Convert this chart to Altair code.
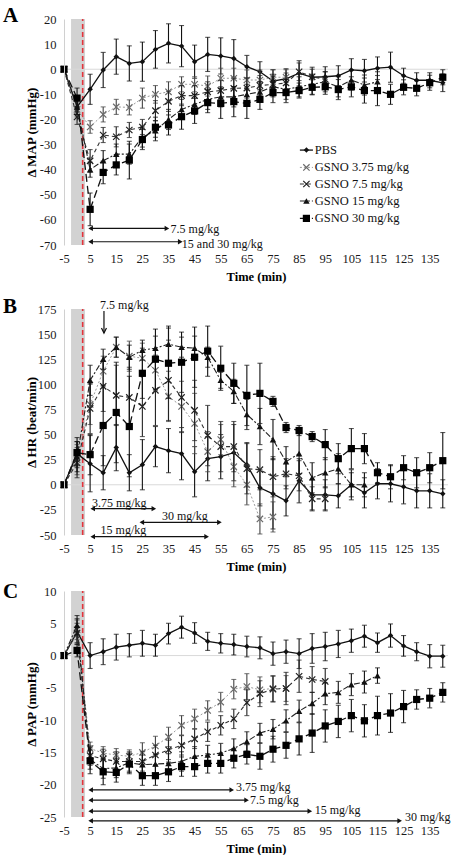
import altair as alt
import pandas as pd

FONT = "Liberation Serif"
TIME = list(range(-5, 145, 5))
X_TICKS = list(range(-5, 140, 10))
X_DOMAIN = [-5, 142]
BAND_T = [-2.3, 3.05]
RED_T = 2.15
SERIES = ["PBS", "GSNO 3.75 mg/kg", "GSNO 7.5 mg/kg", "GSNO 15 mg/kg", "GSNO 30 mg/kg"]

# ---------------- Panel A : delta MAP ----------------
MAP_PBS = [0, -15, -8, -0.3, 5, 2.3, 3, 7.9, 10.3, 9.2, 3, 5.9, 5.3, 4.3, 1.0, -1.0, -4.7, -3.8, -1.6, -3.2,
           -3, -2.6, -0.3, -0.6, 0.4, 0.8, -2.6, -4.4, -4.4, -5.4]
MAP_PBS_ERR = [0, 3, 6, 7, 7, 7, 7.8, 7.5, 7.8, 8.2, 6.6, 6.8, 7.2, 7.5, 4.5, 4.0, 4.5, 4.0, 5.0, 4.0,
               4.0, 4.0, 4.5, 4.5, 4.5, 6.0, 3.0, 3.0, 3.0, 3.5]
MAP_375 = [0, -16, -23, -18, -15, -15.2, -11.5, -10, -9, -6, -6, -6.7, -3.6, -3.6, -4.3, -4.3, -3.2, -3.2]
MAP_375_ERR = [0, 3, 2.5, 3, 3, 3, 4, 3.5, 4, 3, 3, 4, 4, 4, 4, 4, 3, 3]
MAP_75 = [0, -19, -36.5, -26.2, -26.9, -24.2, -23, -16.5, -12.8, -10.5, -10.5, -9, -8.5, -7.6, -7.5, -6.5,
          -6, -5.5, -1.0, -3.0, -4.0]
MAP_75_ERR = [0, 3, 4.5, 3, 4, 3, 3, 4, 4, 4, 4, 4, 4, 4, 4, 4, 4, 4, 3.5, 3, 3]
MAP_15 = [0, -15, -40, -36.4, -33.8, -33.8, -27, -24.5, -20, -16, -14, -12, -11, -11, -10, -9, -7, -8, -7, -6,
          -5, -7, -4.3, -6.3, -5.0]
MAP_15_ERR = [0, 3, 3, 4, 4, 4, 4, 4, 4, 4, 4, 4, 4, 4, 4, 4, 4, 4, 4, 4, 4, 4, 4, 4, 4]
MAP_30 = [0, -11.5, -55.8, -41.1, -38.1, -36.2, -28, -23.1, -22.2, -18.9, -16.6, -13.3, -13.6, -12.9, -13.6,
          -12, -9.3, -9.3, -8.5, -7.2, -7.0, -8.1, -7.0, -8.5, -8.5, -10, -7.2, -7.6, -5.4, -3.2]
MAP_30_ERR = [0, 4, 6.5, 4.5, 4, 7.5, 4, 4, 4, 5, 5, 4, 6, 6, 6, 4, 4, 4, 3, 3, 3, 4, 4, 5, 6, 4, 3, 3, 3, 3]
A_TICKS = [20, 10, 0, -10, -20, -30, -40, -50, -60, -70]
A_ARROW_START = [5.2, 5.2]
A_ARROW_END = [34.4, 39.5]
A_ARROW_Y = [-63.4, -68.7]
A_TEXT = ["7.5 mg/kg", "15 and 30 mg/kg"]
A_TEXT_T = [35.8, 40.1]
A_TEXT_Y = [-63.7, -69.5]
LEG_V = [-32.2, -39.1, -45.7, -52.5, -59.4]

# ---------------- Panel B : delta HR ----------------
HR_PBS = [0, 31, 21, 12, 37, 12, 20, 38, 34, 31, 13, 26, 28, 32, 20, -3, -9, -16, 4, -10,
          -10, -11, 0, -8, 1, 1, -2, -6, -6, -9]
HR_PBS_ERR = [0, 12, 28, 17, 23, 18, 25, 20, 22, 26, 25, 22, 22, 28, 22, 18, 35, 15, 22, 15,
              15, 12, 15, 15, 15, 18, 17, 17, 17, 14]
HR_375 = [0, 25, 80, 113, 137, 128, 126, 114, 88, 78, 61, 33, 45, 18, 0, -34, -32]
HR_375_ERR = [0, 15, 20, 15, 10, 15, 15, 20, 25, 25, 30, 20, 15, 20, 20, 15, 15]
HR_75 = [0, 22, 76, 98, 89, 87, 78, 94, 104, 87, 74, 49, 38, 38, 16, 15, 8, 11, 9, -14, -14]
HR_75_ERR = [0, 15, 25, 25, 30, 30, 30, 35, 40, 35, 30, 30, 25, 25, 25, 20, 20, 15, 15, 12, 12]
HR_15 = [0, 28, 104, 125, 137, 127, 134, 136, 140, 137, 136, 127, 104, 93, 70, 58, 45, 23, 31, 7, 12, 16, 0, 0]
HR_15_ERR = [0, 15, 15, 10, 10, 12, 10, 12, 18, 10, 12, 10, 8, 12, 15, 18, 20, 15, 20, 15, 15, 15, 12, 12]
HR_30 = [0, 32, 30, 59, 72, 58, 111, 125, 121, 122, 127, 133, 116, 101, 89, 91, 83, 57, 54, 48,
         40, 26, 36, 36, 12, 8, 17, 12, 17, 24]
HR_30_ERR = [0, 15, 20, 40, 50, 50, 25, 30, 35, 30, 30, 25, 22, 20, 30, 30, 5, 5, 5, 5,
             15, 15, 20, 15, 10, 12, 12, 15, 15, 28]
B_TICKS = [175, 150, 125, 100, 75, 50, 25, 0, -25, -50]
B_ARROW_START = [6.0, 24.8, 6.0]
B_ARROW_END = [29.4, 54.5, 49.6]
B_ARROW_Y = [-23.8, -37.4, -51.7]
B_TEXT = ["3.75 mg/kg", "30 mg/kg", "15 mg/kg", "7.5 mg/kg"]
B_TEXT_T = [5.7, 32.5, 9.0, 8.8]
B_TEXT_Y = [-17.8, -31.1, -45.0, 179.0]
B_DOWN_T = 10.3
B_DOWN_Y = [173, 151]

# ---------------- Panel C : delta PAP ----------------
PAP_PBS = [0, 3.7, 0, 0.6, 1.3, 1.6, 1.9, 1.6, 3.4, 4.4, 3.5, 2.2, 1.9, 1.7, 1.4, 1.2, 0.3, 0.6, 0.3, 1.1,
           1.4, 1.8, 2.3, 3.0, 2.0, 3.1, 1.5, 0.6, -0.1, -0.1]
PAP_PBS_ERR = [0, 2, 2, 2, 2, 1.8, 2, 1.7, 1.6, 1.7, 1.6, 1.4, 1.5, 1.6, 1.6, 1.7, 1.8, 1.8, 2.3, 2.3,
               2.2, 2.1, 1.8, 1.7, 1.5, 1.8, 1.6, 1.4, 1.8, 1.7]
PAP_375 = [0, 4, -14.4, -15.1, -15.4, -15.6, -15.0, -14.0, -12.6, -10.8, -9.8, -8.5, -7.2, -5.2, -4.8, -5.3,
           -5.1, -5.1]
PAP_375_ERR = [0, 1.5, 1, 1, 1, 1, 1.5, 1.5, 1.5, 1.5, 1.5, 1.5, 1.5, 1.5, 2, 2, 2, 2]
PAP_75 = [0, 3.5, -15.5, -16.0, -16.4, -16.4, -16.4, -15.4, -14.6, -13.9, -12.9, -11.8, -10.8, -9.8, -7.3,
          -5.9, -5.2, -5.1, -3.2, -3.7, -4.0]
PAP_75_ERR = [0, 1.5, 1.5, 1.5, 1.5, 1.5, 1.5, 1.5, 1.5, 1.5, 1.5, 1.5, 1.5, 1.5, 2, 2, 2, 2.5, 2.5, 2, 2]
PAP_15 = [0, 4.7, -16.1, -17.5, -17.4, -16.6, -16.9, -16.8, -16.7, -16.4, -15.6, -15.4, -15.1, -14.4, -13.3,
          -12.0, -11.4, -10.1, -8.6, -7.4, -5.9, -5.7, -4.5, -4.1, -3.1]
PAP_15_ERR = [0, 1.5, 1.5, 1.5, 1.5, 1.5, 1.5, 1.5, 1.5, 1.5, 1.5, 1.5, 1.5, 1.5, 1.5, 1.5, 1.5, 1.7, 1.7,
              1.7, 1.7, 1.7, 1.7, 1.7, 1.2]
PAP_30 = [0, 0.8, -16.3, -18.0, -18.1, -16.8, -18.6, -18.6, -18.0, -17.2, -17.2, -16.7, -16.7, -15.9, -15.3,
          -15.6, -14.5, -13.9, -12.9, -12.0, -10.9, -10.2, -9.3, -10.1, -9.3, -8.9, -7.9, -6.8, -6.6, -5.7]
PAP_30_ERR = [0, 1, 2, 2, 1.5, 1.5, 1.5, 1.5, 1.5, 1.5, 1.5, 1.5, 1.5, 1.5, 1.5, 2, 2, 2, 2.5, 3,
              2.5, 2.5, 2.5, 2.5, 3, 3, 2.5, 1.5, 1.5, 1.5]
C_TICKS = [10, 5, 0, -5, -10, -15, -20, -25]
C_ARROW_START = [5.2, 5.2, 5.2, 5.2]
C_ARROW_END = [59.2, 64.9, 89.1, 123.5]
C_ARROW_Y = [-20.8, -22.4, -24.1, -25.6]
C_TEXT = ["3.75 mg/kg", "7.5 mg/kg", "15 mg/kg", "30 mg/kg"]
C_TEXT_T = [60.8, 66.2, 91.0, 125.5]
C_TEXT_Y = [-20.4, -22.4, -23.9, -25.0]

W, H = 384, 226
XSHAPE = "M-1,-1L1,1M-1,1L1,-1"
STYLE = [
    dict(shape="diamond", size=30, filled=True, mcolor="#111", lcolor="#111", lw=1.3, dash=None, ecolor="#111"),
    dict(shape=XSHAPE, size=40, filled=False, mcolor="#6a6a6a", lcolor="#9a9a9a", lw=1.0, dash=[2, 2], ecolor="#444"),
    dict(shape=XSHAPE, size=40, filled=False, mcolor="#222", lcolor="#333", lw=1.1, dash=[4, 3], ecolor="#222"),
    dict(shape="triangle-up", size=42, filled=True, mcolor="#111", lcolor="#222", lw=1.1, dash=[6, 2, 2, 2], ecolor="#111"),
    dict(shape="square", size=52, filled=True, mcolor="#000", lcolor="#111", lw=1.3, dash=[8, 4], ecolor="#111"),
]
ONE = pd.DataFrame({"k": [0]})
LABEL_EXPR = "'' + datum.value"

XAXIS = alt.Axis(values=X_TICKS, title="Time (min)", domain=False, ticks=False, grid=False,
                 labelPadding=7, labelFlush=False, labelOverlap=False, labelExpr=LABEL_EXPR, titleY=31,
                 titleBaseline="middle", titleFontWeight="bold", zindex=1)


def make_panel(letter, letter_y, ytitle, ydomain, yticks, series, arrows, texts, top, bot,
               legend=False, down_arrow=None):
    yaxis = alt.Axis(values=yticks, title=ytitle, domain=True, domainColor="#d0d0d0", domainWidth=1,
                     ticks=False, grid=False, labelPadding=8, labelFlush=False, labelOverlap=False,
                     labelExpr=LABEL_EXPR,
                     titleX=-29, titleY=H / 2, titleAngle=270, titleAlign="center", titleFontSize=13,
                     titleBaseline="alphabetic", titleFontWeight="bold", zindex=1)
    xs = alt.Scale(domain=X_DOMAIN, nice=False, zero=False)
    ys = alt.Scale(domain=[ydomain[0], ydomain[1]], nice=False, zero=False)

    def X(f):
        return alt.X(f, type="quantitative", scale=xs, axis=XAXIS)

    def Y(f):
        return alt.Y(f, type="quantitative", scale=ys, axis=yaxis)

    layers = []
    layers.append(alt.Chart(ONE).mark_rect(fill="white").encode(
        x=alt.value(-64), x2=alt.value(W + 10), y=alt.value(-top), y2=alt.value(H + bot)))
    frame = pd.DataFrame({"b0": [BAND_T[0]], "b1": [BAND_T[1]], "y0": [ydomain[0]], "y1": [ydomain[1]],
                          "r": [RED_T], "x0": [X_DOMAIN[0]], "x1": [X_DOMAIN[1]], "z": [0]})
    layers.append(alt.Chart(frame).mark_rect(color="#d2d2d2").encode(x=X("b0"), x2="b1", y=Y("y0"), y2="y1"))
    layers.append(alt.Chart(frame).mark_rule(color="#d9d9d9", strokeWidth=1).encode(x=X("x0"), x2="x1", y=Y("z")))
    layers.append(alt.Chart(frame).mark_rule(color="#e3343c", strokeWidth=1.6, strokeDash=[5, 3]).encode(
        x=X("r"), y=Y("y0"), y2="y1"))

    for (vals, errs), st in zip(series, STYLE):
        n = len(vals)
        df = pd.DataFrame({"t": TIME[:n], "v": vals,
                           "lo": [v - e for v, e in zip(vals, errs)],
                           "hi": [v + e for v, e in zip(vals, errs)], "e": errs})
        de = df[df["e"] > 0]
        lk = dict(color=st["lcolor"], strokeWidth=st["lw"])
        if st["dash"]:
            lk["strokeDash"] = st["dash"]
        layers.append(alt.Chart(df).mark_line(**lk).encode(x=X("t"), y=Y("v")))
        layers.append(alt.Chart(de).mark_rule(color=st["ecolor"], strokeWidth=1.1).encode(
            x=X("t"), y=Y("lo"), y2="hi"))
        for f in ("lo", "hi"):
            layers.append(alt.Chart(de).mark_tick(orient="horizontal", size=5, thickness=1.1,
                                                  color=st["ecolor"]).encode(x=X("t"), y=Y(f)))
        layers.append(alt.Chart(df).mark_point(shape=st["shape"], size=st["size"], filled=st["filled"],
                                               color=st["mcolor"], strokeWidth=1.2, opacity=1).encode(
            x=X("t"), y=Y("v")))

    a0, a1, ay = arrows
    adf = pd.DataFrame({"a0": a0, "a1": a1, "ay": ay})
    layers.append(alt.Chart(adf).mark_rule(color="#111", strokeWidth=1.2).encode(x=X("a0"), x2="a1", y=Y("ay")))
    layers.append(alt.Chart(adf).mark_point(shape="triangle-left", filled=True, size=28, color="#111",
                                            opacity=1).encode(x=X("a0"), y=Y("ay")))
    layers.append(alt.Chart(adf).mark_point(shape="triangle-right", filled=True, size=28, color="#111",
                                            opacity=1).encode(x=X("a1"), y=Y("ay")))
    lab, tt, ty = texts
    tdf = pd.DataFrame({"label": lab, "tt": tt, "ty": ty})
    layers.append(alt.Chart(tdf).mark_text(align="left", baseline="middle", fontSize=12, font=FONT,
                                           color="#111").encode(x=X("tt"), y=Y("ty"), text="label:N"))
    if down_arrow is not None:
        dt, (dy0, dy1) = down_arrow
        ddf = pd.DataFrame({"t": [dt], "y0": [dy0], "y1": [dy1]})
        layers.append(alt.Chart(ddf).mark_rule(color="#111", strokeWidth=1.2).encode(
            x=X("t"), y=Y("y0"), y2="y1"))
        layers.append(alt.Chart(ddf).mark_point(shape="M-1,-2L0,0L1,-2", filled=False, size=25,
                                                color="#111", strokeWidth=1.2, opacity=1).encode(
            x=X("t"), y=Y("y1")))

    if legend:
        for i, st in enumerate(STYLE):
            ldf = pd.DataFrame({"l0": [85.3], "l1": [90.3], "m": [87.8], "tx": [91.0],
                                "v": [LEG_V[i]], "label": [SERIES[i]]})
            lk = dict(color=st["lcolor"], strokeWidth=st["lw"])
            if st["dash"]:
                lk["strokeDash"] = st["dash"]
            layers.append(alt.Chart(ldf).mark_rule(**lk).encode(x=X("l0"), x2="l1", y=Y("v")))
            layers.append(alt.Chart(ldf).mark_point(shape=st["shape"], size=st["size"], filled=st["filled"],
                                                    color=st["mcolor"], strokeWidth=1.2, opacity=1).encode(
                x=X("m"), y=Y("v")))
            layers.append(alt.Chart(ldf).mark_text(align="left", baseline="middle", fontSize=12.5, font=FONT,
                                                   color="#111").encode(x=X("tx"), y=Y("v"), text="label:N"))

    layers.append(alt.Chart(ONE).mark_text(text=letter, fontSize=21, fontWeight="bold", font=FONT,
                                           align="left", baseline="alphabetic", color="#000").encode(
        x=alt.value(-61), y=alt.value(letter_y)))
    return alt.layer(*layers).properties(width=W, height=H)


pA = make_panel("A", 3, "\u0394 MAP (mmHg)", [-70, 20], A_TICKS,
                [(MAP_PBS, MAP_PBS_ERR), (MAP_375, MAP_375_ERR), (MAP_75, MAP_75_ERR),
                 (MAP_15, MAP_15_ERR), (MAP_30, MAP_30_ERR)],
                (A_ARROW_START, A_ARROW_END, A_ARROW_Y), (A_TEXT, A_TEXT_T, A_TEXT_Y),
                top=19, bot=40, legend=True)
pB = make_panel("B", 4, "\u0394 HR (beat/min)", [-50, 175], B_TICKS,
                [(HR_PBS, HR_PBS_ERR), (HR_375, HR_375_ERR), (HR_75, HR_75_ERR),
                 (HR_15, HR_15_ERR), (HR_30, HR_30_ERR)],
                (B_ARROW_START, B_ARROW_END, B_ARROW_Y), (B_TEXT, B_TEXT_T, B_TEXT_Y),
                top=24, bot=40, down_arrow=(B_DOWN_T, B_DOWN_Y))
pC = make_panel("C", 7, "\u0394 PAP (mmHg)", [-25, 10], C_TICKS,
                [(PAP_PBS, PAP_PBS_ERR), (PAP_375, PAP_375_ERR), (PAP_75, PAP_75_ERR),
                 (PAP_15, PAP_15_ERR), (PAP_30, PAP_30_ERR)],
                (C_ARROW_START, C_ARROW_END, C_ARROW_Y), (C_TEXT, C_TEXT_T, C_TEXT_Y),
                top=16, bot=38)

chart = alt.vconcat(pA, pB, pC, spacing=0).properties(padding=0).configure_view(stroke=None).configure_axis(
    labelFont=FONT, titleFont=FONT, labelFontSize=12.5, titleFontSize=12.5,
    labelColor="#1a1a1a", titleColor="#000").configure_text(font=FONT)

chart.save("out.html", embed_options={"renderer": "svg", "actions": False})
